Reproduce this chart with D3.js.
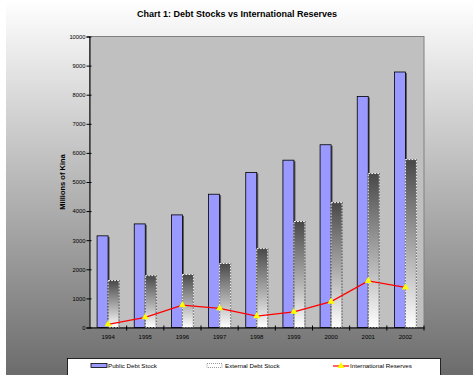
<!DOCTYPE html>
<html><head><meta charset="utf-8">
<script src="https://cdn.jsdelivr.net/npm/d3@7"></script>
<style>html,body{margin:0;padding:0;background:#fff;}svg{display:block;}</style>
</head><body>
<script>
const years = ["1994","1995","1996","1997","1998","1999","2000","2001","2002"];
const publicDebt = [3150, 3560, 3870, 4580, 5330, 5750, 6280, 7940, 8780];
const externalDebt = [1610, 1780, 1820, 2200, 2710, 3640, 4290, 5290, 5770];
const reserves = [110, 350, 770, 660, 390, 540, 890, 1600, 1380];
const yTicks = [0,1000,2000,3000,4000,5000,6000,7000,8000,9000,10000];
const seriesNames = ["Public Debt Stock", "External Debt Stock", "International Reserves"];

const W = 473, H = 375;
const svg = d3.select("body").append("svg").attr("width", W).attr("height", H)
  .style("font-family", "Liberation Sans, Arial, sans-serif");
const defs = svg.append("defs");
const bg = defs.append("linearGradient").attr("id","bg").attr("x1",0).attr("y1",0).attr("x2",0).attr("y2",1);
bg.append("stop").attr("offset","0%").attr("stop-color","#ffffff");
bg.append("stop").attr("offset","100%").attr("stop-color","#6c6c6c");
const eg = defs.append("linearGradient").attr("id","ext").attr("x1",0).attr("y1",0).attr("x2",0).attr("y2",1);
eg.append("stop").attr("offset","0%").attr("stop-color","#484848");
eg.append("stop").attr("offset","100%").attr("stop-color","#ffffff");

svg.append("rect").attr("x",6).attr("y",0).attr("width",W-6).attr("height",H).attr("fill","url(#bg)");

const m = {l: 89.5, r: 424, t: 36.5, b: 327.5};
const x = d3.scaleBand().domain(years).range([m.l, m.r]).paddingInner(0).paddingOuter(0);
const y = d3.scaleLinear().domain([0, 10000]).range([m.b, m.t]);

svg.append("rect").attr("x", m.l).attr("y", m.t).attr("width", m.r - m.l).attr("height", m.b - m.t)
  .attr("fill", "#c0c0c0").attr("stroke", "#808080").attr("stroke-width", 1);

svg.append("text").attr("x", 237).attr("y", 17).attr("text-anchor","middle")
  .attr("font-size", 9).attr("font-weight","bold").text("Chart 1: Debt Stocks vs International Reserves");

svg.append("text").attr("transform", `translate(65,${(m.t+m.b)/2}) rotate(-90)`)
  .attr("text-anchor","middle").attr("font-size", 7.5).attr("font-weight","bold").text("Millions of Kina");

const bw = 11;
const cx = d => x(d) + x.bandwidth()/2;
const g = svg.append("g");
g.selectAll(".sh").data(years).join("rect")
  .attr("x", d => cx(d) - bw + 1.5).attr("y", (d,i) => y(publicDebt[i]) + 1)
  .attr("width", bw).attr("height", (d,i) => m.b - y(publicDebt[i]) - 1)
  .attr("fill", "#555");
g.selectAll(".pb").data(years).join("rect")
  .attr("x", d => cx(d) - bw).attr("y", (d,i) => y(publicDebt[i]))
  .attr("width", bw).attr("height", (d,i) => m.b - y(publicDebt[i]))
  .attr("fill", "#9999ff").attr("stroke", "#000").attr("stroke-width", 0.8);
g.selectAll(".eb").data(years).join("rect")
  .attr("x", d => cx(d)).attr("y", (d,i) => y(externalDebt[i]))
  .attr("width", bw).attr("height", (d,i) => m.b - y(externalDebt[i]))
  .attr("fill", "url(#ext)").attr("stroke", "#222").attr("stroke-width", 1);
g.selectAll(".eb2").data(years).join("rect")
  .attr("x", d => cx(d)).attr("y", (d,i) => y(externalDebt[i]))
  .attr("width", bw).attr("height", (d,i) => m.b - y(externalDebt[i]))
  .attr("fill", "none").attr("stroke", "#fff").attr("stroke-width", 1).attr("stroke-dasharray","2,1");

const line = d3.line().x((d,i) => cx(years[i])).y(d => y(d));
svg.append("path").datum(reserves).attr("d", line).attr("fill","none").attr("stroke","#ff0000").attr("stroke-width",1.3);
const tri = d3.symbol().type(d3.symbolTriangle).size(22);
svg.selectAll(".mk").data(reserves).join("path")
  .attr("transform", (d,i) => `translate(${cx(years[i])},${y(d)})`).attr("d", tri).attr("fill","#ffff00");

const yAxis = d3.axisLeft(y).tickValues(yTicks).tickSize(3).tickFormat(d3.format("d"));
const ya = svg.append("g").attr("transform", `translate(${m.l},0)`).call(yAxis);
ya.select(".domain").attr("stroke","#000");
ya.selectAll("text").attr("font-size", 5.8).attr("fill","#000").attr("x",-4);
ya.selectAll(".tick line").attr("x2", 2).attr("x1",-3);

const xAxis = d3.axisBottom(x).tickSize(0).tickSizeOuter(0);
const xa = svg.append("g").attr("transform", `translate(0,${m.b})`).call(xAxis);
xa.select(".domain").attr("stroke","#000");
xa.selectAll("text").attr("font-size", 6).attr("fill","#000").attr("dy", "1.35em");
svg.append("g").selectAll("line").data(years.slice(1).concat(["end"])).join("line")
  .attr("x1", d => d === "end" ? m.r : x(d)).attr("x2", d => d === "end" ? m.r : x(d))
  .attr("y1", m.b - 2).attr("y2", m.b + 3).attr("stroke","#000");

const lg = svg.append("g");
lg.append("rect").attr("x", 67.5).attr("y", 358.5).attr("width", 373).attr("height", 20)
  .attr("fill","#fff").attr("stroke","#000").attr("stroke-width",0.8);
lg.append("rect").attr("x", 91).attr("y", 363.5).attr("width", 16).attr("height", 4)
  .attr("fill","#9999ff").attr("stroke","#000").attr("stroke-width",0.8);
lg.append("text").attr("x", 108).attr("y", 368).attr("font-size", 6.2).text(seriesNames[0]);
lg.append("rect").attr("x", 207).attr("y", 363.5).attr("width", 15).attr("height", 4)
  .attr("fill","#fff").attr("stroke","#555").attr("stroke-width",0.6).attr("stroke-dasharray","1,1");
lg.append("text").attr("x", 225).attr("y", 368).attr("font-size", 6.2).text(seriesNames[1]);
lg.append("line").attr("x1", 333).attr("x2", 349).attr("y1", 366).attr("y2", 366).attr("stroke","#ff0000").attr("stroke-width",1.2);
lg.append("path").attr("transform","translate(341,366)").attr("d", tri).attr("fill","#ffff00");
lg.append("text").attr("x", 350).attr("y", 368).attr("font-size", 6.2).text(seriesNames[2]);
</script>
</body></html>
